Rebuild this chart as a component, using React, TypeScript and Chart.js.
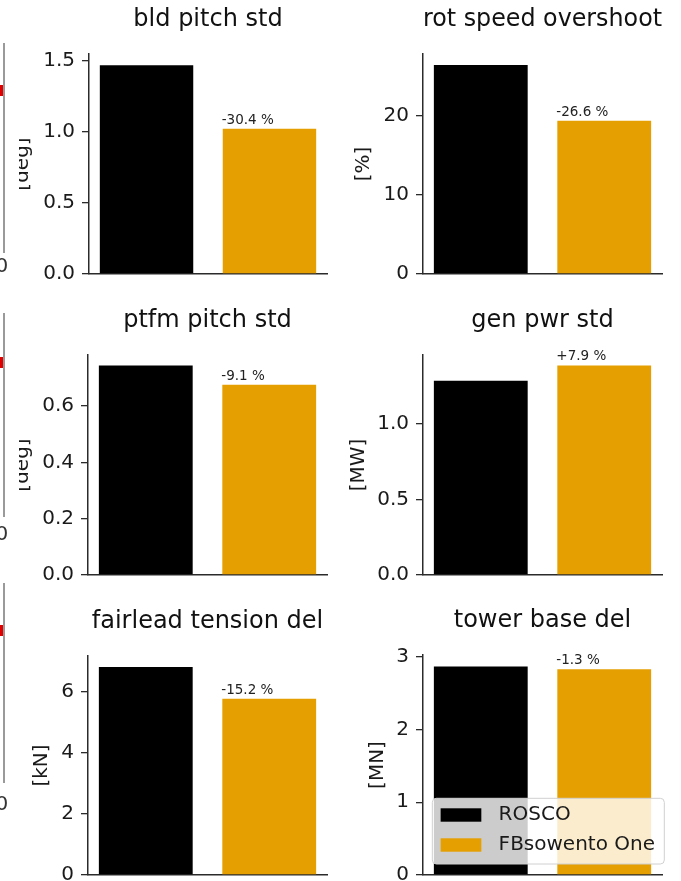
import React, { useEffect, useRef } from "react";
import { Chart, registerables } from "chart.js";

Chart.register(...registerables);

// ---------------- data ----------------
const seriesNames = ["ROSCO", "FBsowento One"];
const seriesColors = ["#000000", "#E69F00"];
const panelTitles = [
  "bld pitch std",
  "rot speed overshoot",
  "ptfm pitch std",
  "gen pwr std",
  "fairlead tension del",
  "tower base del",
];
const panelUnits = ["[deg]", "[%]", "[deg]", "[MW]", "[kN]", "[MN]"];
const roscoValues = [1.47, 26.4, 0.744, 1.287, 6.82, 2.862];
const fbValues = [1.023, 19.38, 0.676, 1.388, 5.78, 2.825];
const changeLabels = ["-30.4 %", "-26.6 %", "-9.1 %", "+7.9 %", "-15.2 %", "-1.3 %"];
const yMaxValues = [1.549, 27.8, 0.7815, 1.457, 7.18, 3.02];
const yTickValues = [
  [0, 0.5, 1.0, 1.5],
  [0, 10, 20],
  [0, 0.2, 0.4, 0.6],
  [0, 0.5, 1.0],
  [0, 2, 4, 6],
  [0, 1, 2, 3],
];
const yTickLabels = [
  ["0.0", "0.5", "1.0", "1.5"],
  ["0", "10", "20"],
  ["0.0", "0.2", "0.4", "0.6"],
  ["0.0", "0.5", "1.0"],
  ["0", "2", "4", "6"],
  ["0", "1", "2", "3"],
];
const barPositions = [0, 1];
const barWidthFraction = 0.76;
const xRange = [-0.468, 1.468];

// ---------------- layout ----------------
const FONT = "'DejaVu Sans', sans-serif";
const YW = 85; // y axis box width
const TOP = 60; // space above plot area inside canvas
const XH = 20; // x axis box height
const PAD_R = 4;

const layouts = [
  { xL: 89, xR: 327, yT: 54, yB: 274, labelX: 23 },
  { xL: 423, xR: 662, yT: 54, yB: 274, labelX: 364 },
  { xL: 88, xR: 327, yT: 355, yB: 575, labelX: 23 },
  { xL: 423, xR: 662, yT: 355, yB: 575, labelX: 358.3 },
  { xL: 88, xR: 327, yT: 655.7, yB: 875, labelX: 41.7 },
  { xL: 423, xR: 662, yT: 655, yB: 875, labelX: 377.5 },
];

const changeLabelPlugin = (idx: number) => ({
  id: "changeLabel" + idx,
  afterDatasetsDraw(chart: any) {
    const meta = chart.getDatasetMeta(1);
    const el = meta.data[0];
    if (!el) return;
    const ctx = chart.ctx;
    const props = el.getProps(["x", "y", "width"], true);
    ctx.save();
    ctx.font = `13.5px ${FONT}`;
    ctx.fillStyle = "#222";
    ctx.textAlign = "left";
    ctx.textBaseline = "alphabetic";
    ctx.fillText(changeLabels[idx], props.x - props.width / 2 - 1, props.y - 5);
    ctx.restore();
  },
});

const boxLegendPlugin = {
  id: "boxLegend",
  afterDraw(chart: any) {
    const ctx = chart.ctx;
    const area = chart.chartArea;
    ctx.save();
    ctx.font = `20px ${FONT}`;
    const labels = chart.data.datasets.map((d: any) => d.label as string);
    const colors = chart.data.datasets.map((d: any) => d.backgroundColor as string);
    const maxText = Math.max(...labels.map((l: string) => ctx.measureText(l).width));
    const padL = 8.3, handleW = 40.7, handleH = 13.4, gap = 17.3, padR = 9.3;
    const rowH = 30, firstRow = 16.7, boxH = 65.7;
    const w = padL + handleW + gap + maxText + padR;
    const right = area.right + 2.3;
    const bottom = area.bottom - 11;
    const left = right - w;
    const top = bottom - boxH;
    ctx.beginPath();
    if ((ctx as any).roundRect) (ctx as any).roundRect(left, top, w, boxH, 4);
    else ctx.rect(left, top, w, boxH);
    ctx.fillStyle = "rgba(255,255,255,0.8)";
    ctx.fill();
    ctx.strokeStyle = "#d0d0d0";
    ctx.lineWidth = 1;
    ctx.stroke();
    labels.forEach((lab: string, i: number) => {
      const cy = top + firstRow + i * rowH;
      ctx.fillStyle = colors[i];
      ctx.fillRect(left + padL, cy - handleH / 2, handleW, handleH);
      ctx.fillStyle = "#1a1a1a";
      ctx.textAlign = "left";
      ctx.textBaseline = "middle";
      ctx.fillText(lab, left + padL + handleW + gap, cy);
    });
    ctx.restore();
  },
};

function Panel({ idx }: { idx: number }) {
  const ref = useRef<HTMLCanvasElement>(null);
  const L = layouts[idx];
  const canvasLeft = L.xL - YW;
  const canvasTop = L.yT - TOP;
  const width = L.xR - canvasLeft + PAD_R;
  const height = L.yB - canvasTop + XH;
  const labelPad = L.labelX - canvasLeft - 12;

  useEffect(() => {
    if (!ref.current) return;
    const plugins: any[] = [changeLabelPlugin(idx)];
    if (idx === 5) plugins.push(boxLegendPlugin);
    const chart = new Chart(ref.current, {
      type: "bar",
      data: {
        datasets: [
          {
            label: seriesNames[0],
            data: [{ x: barPositions[0], y: roscoValues[idx] }],
            backgroundColor: seriesColors[0],
            borderWidth: 0,
            grouped: false,
            categoryPercentage: barWidthFraction,
            barPercentage: 1,
          } as any,
          {
            label: seriesNames[1],
            data: [{ x: barPositions[1], y: fbValues[idx] }],
            backgroundColor: seriesColors[1],
            borderWidth: 0,
            grouped: false,
            categoryPercentage: barWidthFraction,
            barPercentage: 1,
          } as any,
        ],
      },
      options: {
        responsive: false,
        animation: false,
        devicePixelRatio: 1,
        events: [],
        layout: { padding: { top: 11.2, left: 0, right: PAD_R, bottom: 0 } },
        font: { family: FONT },
        plugins: {
          legend: { display: false },
          tooltip: { enabled: false },
          title: {
            display: true,
            text: panelTitles[idx],
            fullSize: false,
            color: "#111",
            font: { family: FONT, size: 24, weight: "normal" },
            padding: { top: 0, bottom: 20 },
          } as any,
        },
        scales: {
          x: {
            type: "linear",
            position: "bottom",
            offset: false,
            min: xRange[0],
            max: xRange[1],
            ticks: { display: false },
            grid: { display: false, offset: false },
            border: { display: true, color: "#2b2b2b", width: 1.5 },
            afterBuildTicks: (s: any) => {
              s.ticks = barPositions.map((v) => ({ value: v }));
            },
            afterFit: (s: any) => {
              s.height = XH;
            },
          },
          y: {
            type: "linear",
            position: "left",
            min: 0,
            max: yMaxValues[idx],
            afterBuildTicks: (s: any) => {
              s.ticks = yTickValues[idx].map((v) => ({ value: v }));
            },
            ticks: {
              includeBounds: false,
              autoSkip: false,
              padding: 7,
              color: "#1a1a1a",
              font: { family: FONT, size: 20 },
              callback: (_v: any, i: number) => yTickLabels[idx][i],
            },
            grid: {
              display: true,
              drawOnChartArea: false,
              drawTicks: true,
              tickLength: 7,
              color: "#2b2b2b",
              lineWidth: 1.3,
            },
            border: { display: true, color: "#2b2b2b", width: 1.5 },
            title: {
              display: true,
              text: panelUnits[idx],
              color: "#1a1a1a",
              font: { family: FONT, size: 20 },
              padding: { top: labelPad, bottom: 0 },
            },
            afterFit: (s: any) => {
              s.width = YW;
            },
          },
        },
      } as any,
      plugins,
    });
    return () => chart.destroy();
  }, [idx]);

  return (
    <canvas
      ref={ref}
      width={width}
      height={height}
      style={{ position: "absolute", left: canvasLeft, top: canvasTop, width, height }}
    />
  );
}

const fragments = [
  { top: 43, h: 210, red: 85, zero: 265 },
  { top: 313, h: 204, red: 357, zero: 533 },
  { top: 583, h: 200, red: 625, zero: 803 },
];

export default function App() {
  return (
    <div
      style={{
        position: "absolute",
        left: 0,
        top: 0,
        width: 681,
        height: 881,
        overflow: "hidden",
        background: "#ffffff",
      }}
    >
      {layouts.map((_, i) => (
        <Panel key={i} idx={i} />
      ))}
      {fragments.map((f, i) => (
        <React.Fragment key={"f" + i}>
          <div
            style={{
              position: "absolute",
              left: 0,
              top: f.top,
              width: 19,
              height: f.h,
              background: "#ffffff",
              zIndex: 1,
            }}
          >
            <div
              style={{
                position: "absolute",
                left: 3,
                top: 0,
                width: 1.5,
                height: f.h,
                background: "#9a9a9a",
              }}
            />
            <div
              style={{
                position: "absolute",
                left: 0,
                top: f.red - f.top,
                width: 3,
                height: 11,
                background: "#e00000",
              }}
            />
          </div>
          <div
            style={{
              position: "absolute",
              left: -4.5,
              top: f.zero - 12,
              fontFamily: FONT,
              fontSize: 20,
              lineHeight: "24px",
              color: "#333",
              zIndex: 1,
            }}
          >
            0
          </div>
        </React.Fragment>
      ))}
    </div>
  );
}
